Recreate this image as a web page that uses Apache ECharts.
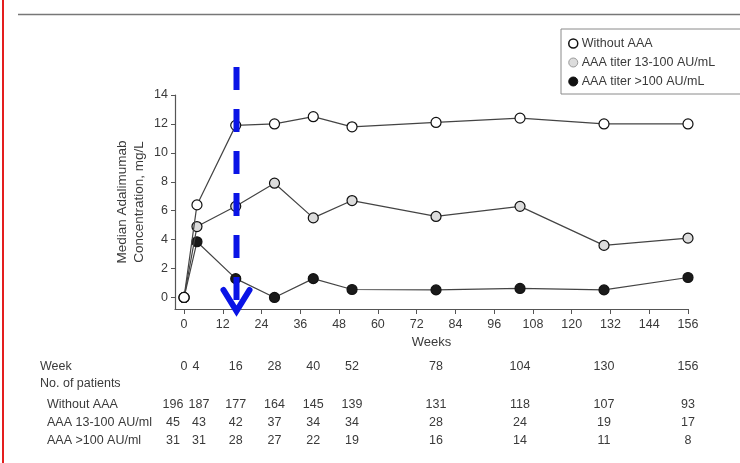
<!DOCTYPE html>
<html>
<head>
<meta charset="utf-8">
<script src="https://cdn.jsdelivr.net/npm/echarts@6/dist/echarts.min.js"></script>
<style>
  html, body { margin: 0; padding: 0; background: #fff; }
  #chart { width: 740px; height: 463px; }
</style>
</head>
<body>
<div id="chart"></div>
<script>
// Study weeks at which adalimumab concentration was sampled
const weeks = [0, 4, 16, 28, 40, 52, 78, 104, 130, 156];

// Median adalimumab concentration (mg/L) per antibody group
const withoutAAA = [0, 6.4, 11.9, 12.0, 12.5, 11.8, 12.1, 12.4, 12.0, 12.0];
const aaa13to100 = [0, 4.9, 6.3, 7.9, 5.5, 6.7, 5.6, 6.3, 3.6, 4.1];
const aaaOver100 = [0, 3.85, 1.3, 0, 1.3, 0.55, 0.52, 0.62, 0.52, 1.38];

// Number of patients at risk per group
const nWithout = [196, 187, 177, 164, 145, 139, 131, 118, 107, 93];
const n13to100 = [45, 43, 42, 37, 34, 34, 28, 24, 19, 17];
const nOver100 = [31, 31, 28, 27, 22, 19, 16, 14, 11, 8];

// Axis tick values
const xTicks = [0, 12, 24, 36, 48, 60, 72, 84, 96, 108, 120, 132, 144, 156];
const yTicks = [0, 2, 4, 6, 8, 10, 12, 14];

const seriesNames = ['Without AAA', 'AAA titer 13-100 AU/mL', 'AAA titer >100 AU/mL'];
const rowLabels = ['Without AAA', 'AAA 13-100 AU/ml', 'AAA >100 AU/ml'];

const FONT = 'Liberation Sans, Arial, sans-serif';
const TXT = '#3a3a3a';
const AXIS = '#555';

const chart = echarts.init(document.getElementById('chart'), null, { renderer: 'canvas' });

function pairs(vals) { return weeks.map((w, i) => [w, vals[i]]); }

function groupSeries(name, vals, fill, z) {
  return {
    name: name,
    type: 'line',
    data: pairs(vals),
    symbol: 'circle',
    symbolSize: 10,
    z: z,
    lineStyle: { color: '#444', width: 1.2 },
    itemStyle: { color: fill, borderColor: '#111', borderWidth: 1.2 },
    emphasis: { disabled: true },
    animation: false
  };
}

chart.setOption({
  animation: false,
  grid: { left: 175, right: 52, top: 95, bottom: 154, containLabel: false },
  legend: {
    orient: 'vertical',
    left: 561,
    top: 29,
    width: 178,
    padding: [8, 30, 6, 7],
    backgroundColor: '#fff',
    borderColor: '#8a8a8a',
    borderWidth: 1,
    icon: 'circle',
    itemWidth: 9,
    itemHeight: 9,
    itemGap: 6,
    textStyle: { fontFamily: FONT, fontSize: 12.5, color: TXT, padding: [0, 0, 0, -1] },
    data: [
      { name: seriesNames[0], itemStyle: { color: '#fff', borderColor: '#111', borderWidth: 1.5 } },
      { name: seriesNames[1], itemStyle: { color: '#dcdcdc', borderColor: '#9a9a9a', borderWidth: 1 } },
      { name: seriesNames[2], itemStyle: { color: '#111', borderColor: '#111', borderWidth: 1 } }
    ]
  },
  xAxis: {
    type: 'value',
    min: -2.8,
    max: 156,
    name: 'Weeks',
    nameLocation: 'middle',
    nameGap: 27,
    nameMoveOverlap: false,
    nameTextStyle: { fontFamily: FONT, fontSize: 13, color: TXT },
    axisLine: { show: true, onZero: false, lineStyle: { color: AXIS, width: 1.2 } },
    axisTick: { show: true, length: 5, customValues: xTicks, lineStyle: { color: AXIS } },
    axisLabel: { customValues: xTicks, margin: 9, fontFamily: FONT, fontSize: 12.5, color: TXT },
    splitLine: { show: false }
  },
  yAxis: {
    type: 'value',
    min: -0.8,
    max: 14,
    name: 'Median Adalimumab\nConcentration, mg/L',
    nameLocation: 'middle',
    nameGap: 27,
    nameMoveOverlap: false,
    nameTextStyle: { fontFamily: FONT, fontSize: 13.5, color: TXT, lineHeight: 17 },
    axisLine: { show: true, onZero: false, lineStyle: { color: AXIS, width: 1.2 } },
    axisTick: { show: true, length: 4, customValues: yTicks, lineStyle: { color: AXIS } },
    axisLabel: { customValues: yTicks, margin: 7, fontFamily: FONT, fontSize: 12.5, color: TXT },
    splitLine: { show: false }
  },
  // drawn back to front so open circles sit on top at the shared origin
  series: [
    groupSeries(seriesNames[2], aaaOver100, '#1a1a1a', 3),
    groupSeries(seriesNames[1], aaa13to100, '#dcdcdc', 4),
    groupSeries(seriesNames[0], withoutAAA, '#ffffff', 5)
  ]
});

// Decorations and the patients-at-risk table, placed from the axis scale
function drawExtras() {
  const px = w => chart.convertToPixel({ xAxisIndex: 0 }, w);
  const g = [];

  // page frame: red margin rule and grey header rule
  g.push({ type: 'rect', shape: { x: 2, y: 0, width: 2, height: 463 }, style: { fill: '#e41e1e' }, silent: true });
  g.push({ type: 'line', shape: { x1: 18, y1: 14.5, x2: 740, y2: 14.5 }, style: { stroke: '#777', lineWidth: 1.5 }, silent: true });

  // blue dashed arrow marking week 16
  const ax = Math.round(px(16)) + 0.5;
  g.push({
    type: 'line', z: 10, silent: true,
    shape: { x1: ax, y1: 67, x2: ax, y2: 310 },
    style: { stroke: '#0a14e6', lineWidth: 6, lineDash: [23, 19] }
  });
  g.push({
    type: 'polyline', z: 10, silent: true,
    shape: { points: [[ax - 13, 290], [ax, 311], [ax + 13, 290]] },
    style: { stroke: '#0a14e6', lineWidth: 6, fill: null, lineJoin: 'miter', lineCap: 'round' }
  });

  // table row labels
  const rows = [367, 384, 405, 423, 441];
  const lab = (text, x, y, align) => ({
    type: 'text', silent: true, x: x, y: y,
    style: { text: text, fontFamily: FONT, fontSize: 12.5, fill: TXT, align: align || 'left', verticalAlign: 'middle' }
  });
  g.push(lab('Week', 40, rows[0]));
  g.push(lab('No. of patients', 40, rows[1]));
  rowLabels.forEach((t, i) => g.push(lab(t, 47, rows[2 + i])));

  // column centres follow the week scale; the first two columns are spread apart
  const colX = weeks.map(w => px(w));
  const countX = colX.slice();
  countX[0] = colX[0] - 11;
  countX[1] = colX[1] + 2;
  const weekX = colX.slice();
  weekX[1] = colX[1] - 1;

  weeks.forEach((w, i) => {
    g.push(lab(String(w), weekX[i], rows[0], 'center'));
    g.push(lab(String(nWithout[i]), countX[i], rows[2], 'center'));
    g.push(lab(String(n13to100[i]), countX[i], rows[3], 'center'));
    g.push(lab(String(nOver100[i]), countX[i], rows[4], 'center'));
  });

  chart.setOption({ graphic: { elements: g } });
}

drawExtras();
</script>
</body>
</html>
